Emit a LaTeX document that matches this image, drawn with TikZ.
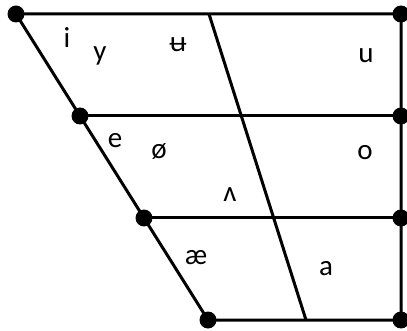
\documentclass[tikz,border=0pt]{standalone}
\usepackage{fontspec}
\setmainfont{Carlito}
\begin{document}
\begin{tikzpicture}[x=1pt, y=-1pt, line width=3pt,
  vowel/.style={font=\fontsize{29}{32}\selectfont, inner sep=0pt, anchor=base},
  corner/.style={circle, fill=black, inner sep=0pt, minimum size=17pt}]

  \useasboundingbox (0,0) rectangle (407,331);

  % Ecken links und rechts
  \node[corner] (l1) at (16,14) {};
  \node[corner] (l2) at (80,116) {};
  \node[corner] (l3) at (144,218) {};
  \node[corner] (l4) at (208,320) {};
  \node[corner] (r1) at (401,14) {};
  \node[corner] (r2) at (401,116) {};
  \node[corner] (r3) at (401,218) {};
  \node[corner] (r4) at (401,320) {};

  % Mittellinie
  \coordinate (m1) at (209,14);
  \coordinate (m4) at (306,320);

  % Rahmen
  \draw (l1.center) -- (l4.center) -- (r4.center) -- (r1.center) -- cycle;
  \foreach \i in {2,3}
    \draw (l\i.center) -- (r\i.center);
  \draw (m1) -- (m4);

  % Vokale
  \node[vowel] (vi) at (67,48) {i};
  \node[vowel] (vy) at (100,61) {y};
  \node[vowel] (vbu) at (178,52) {ʉ};
  \node[vowel] (vu) at (366,63) {u};
  \node[vowel] (ve) at (115,148) {e};
  \node[vowel] (voe) at (159,159) {ø};
  \node[vowel] (vo) at (365,160) {o};
  \node[vowel] (vv) at (230,202) {ʌ};
  \node[vowel] (vae) at (196,265) {æ};
  \node[vowel] (va) at (326,275) {a};

\end{tikzpicture}
\end{document}
